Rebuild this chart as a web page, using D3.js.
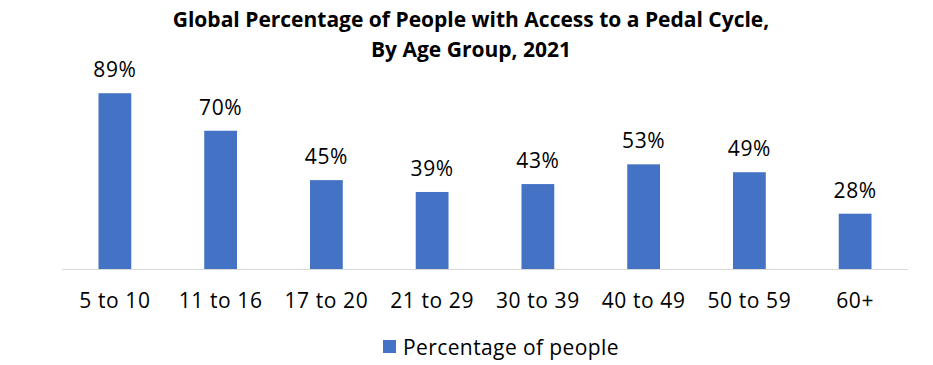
<!DOCTYPE html>
<html><head><meta charset="utf-8">
<script src="https://cdn.jsdelivr.net/npm/d3@7"></script>
<style>body{margin:0;background:#fff}svg{display:block}text{font-family:"Open Sans",sans-serif}</style>
</head><body>
<script>
const categories = ["5 to 10","11 to 16","17 to 20","21 to 29","30 to 39","40 to 49","50 to 59","60+"];
const values = [89,70,45,39,43,53,49,28];
const seriesName = "Percentage of people";
const titleLines = ["Global Percentage of People with Access to a Pedal Cycle,","By Age Group, 2021"];

const W=933,H=365;
const svg=d3.select("body").append("svg").attr("width",W).attr("height",H);
const m={left:62,right:25,top:71.5,bottom:96};
const x=d3.scaleBand().domain(categories).range([m.left,W-m.right]).paddingInner(0.69).paddingOuter(0.345);
const y=d3.scaleLinear().domain([0,100]).range([H-m.bottom,m.top]);
const color="#4472C4";
const fs=21, ls="0.6px";

svg.append("g").selectAll("text").data(titleLines).join("text")
 .attr("x",471).attr("y",(d,i)=>27+i*30).attr("text-anchor","middle")
 .attr("font-size",21).attr("font-weight","bold").attr("fill","#000").text(d=>d);

svg.append("g").selectAll("rect").data(values).join("rect")
 .attr("x",(d,i)=>x(categories[i])).attr("width",x.bandwidth())
 .attr("y",d=>y(d)).attr("height",d=>y(0)-y(d)).attr("fill",color);

svg.append("line").attr("x1",m.left).attr("x2",W-m.right).attr("y1",y(0)+0.5).attr("y2",y(0)+0.5)
 .attr("stroke","#d9d9d9").attr("stroke-width",1);

svg.append("g").selectAll("text").data(values).join("text")
 .attr("x",(d,i)=>x(categories[i])+x.bandwidth()/2).attr("y",d=>y(d)-16)
 .attr("text-anchor","middle").attr("font-size",fs).style("letter-spacing",ls).attr("fill","#000").text(d=>d+"%");

const xa=d3.axisBottom(x).tickSize(0).tickPadding(0);
const g=svg.append("g").attr("transform",`translate(0,${y(0)})`).call(xa);
g.select(".domain").remove();
g.selectAll("text").attr("font-size",fs).attr("fill","#000").attr("dy",null).attr("y",39)
 .style("font-family","'Open Sans',sans-serif").style("letter-spacing",ls);

const lg=svg.append("g");
lg.append("rect").attr("x",383).attr("y",340).attr("width",13).attr("height",13).attr("fill",color);
lg.append("text").attr("x",403).attr("y",355).attr("font-size",fs).style("letter-spacing","0.4px").attr("fill","#000").text(seriesName);
</script>
</body></html>
